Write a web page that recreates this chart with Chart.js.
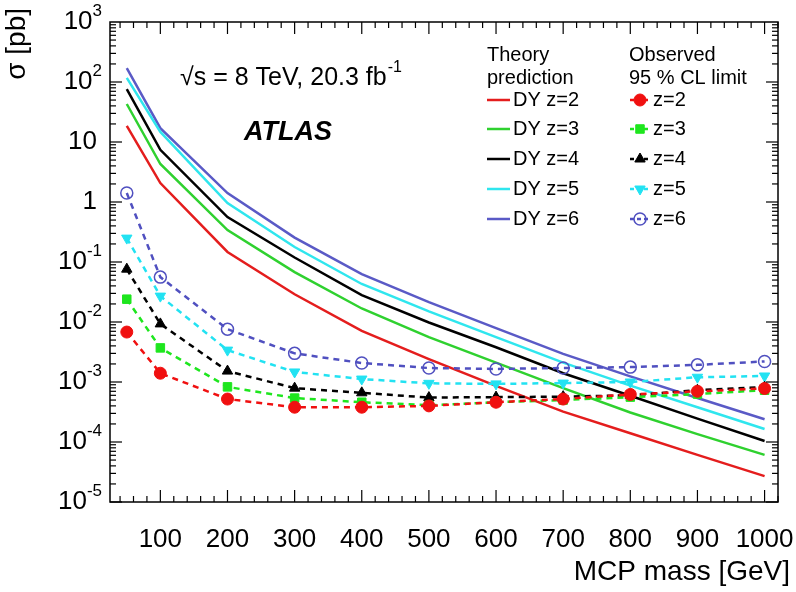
<!DOCTYPE html>
<html>
<head>
<meta charset="utf-8">
<script src="https://cdn.jsdelivr.net/npm/chart.js@4.4.0/dist/chart.umd.min.js"></script>
<style>
html, body { margin: 0; padding: 0; background: #fff; }
#wrap { width: 796px; height: 592px; }
</style>
</head>
<body>
<div id="wrap"><canvas id="myChart"></canvas></div>
<script>
// MCP masses (GeV)
var masses = [50, 100, 200, 300, 400, 500, 600, 700, 800, 900, 1000];

// Drell-Yan theory cross sections (pb)
var theoryZ2 = [18.5, 2.07, 0.147, 0.029, 0.0071, 0.0024, 8.6e-4, 3.2e-4, 1.4e-4, 6.1e-5, 2.7e-5];
var theoryZ3 = [43, 4.3, 0.34, 0.068, 0.0168, 0.0056, 2.1e-3, 7.9e-4, 3.1e-4, 1.35e-4, 6.1e-5];
var theoryZ4 = [76, 7.4, 0.56, 0.119, 0.028, 0.0098, 3.8e-3, 1.4e-3, 5.9e-4, 2.45e-4, 1.04e-4];
var theoryZ5 = [117, 14.7, 0.96, 0.178, 0.043, 0.015, 5.6e-3, 2.1e-3, 8.7e-4, 3.8e-4, 1.65e-4];
var theoryZ6 = [171, 17, 1.41, 0.255, 0.063, 0.0215, 7.9e-3, 2.95e-3, 1.24e-3, 5.4e-4, 2.4e-4];

// observed 95% CL limits (pb)
var obsZ2 = [0.0068, 1.4e-3, 5.2e-4, 3.8e-4, 3.8e-4, 4.0e-4, 4.6e-4, 5.2e-4, 6.2e-4, 7.0e-4, 7.8e-4];
var obsZ3 = [0.024, 3.7e-3, 8.3e-4, 5.4e-4, 4.6e-4, 4.1e-4, 4.6e-4, 5.0e-4, 5.6e-4, 6.3e-4, 7.3e-4];
var obsZ4 = [0.076, 9.3e-3, 1.52e-3, 7.9e-4, 6.6e-4, 5.5e-4, 5.6e-4, 5.7e-4, 6.0e-4, 7.3e-4, 8.2e-4];
var obsZ5 = [0.25, 0.027, 3.4e-3, 1.47e-3, 1.12e-3, 9.5e-4, 9.3e-4, 9.6e-4, 1.0e-3, 1.2e-3, 1.26e-3];
var obsZ6 = [1.41, 0.056, 7.6e-3, 3.0e-3, 2.07e-3, 1.71e-3, 1.65e-3, 1.71e-3, 1.77e-3, 1.93e-3, 2.2e-3];

var xTicks = [100, 200, 300, 400, 500, 600, 700, 800, 900, 1000];
var yExponents = [3, 2, 1, 0, -1, -2, -3, -4, -5];

var theoryLabels = ["DY z=2", "DY z=3", "DY z=4", "DY z=5", "DY z=6"];
var obsLabels = ["z=2", "z=3", "z=4", "z=5", "z=6"];
var lineColors = ["#e41d1d", "#2fd12f", "#000000", "#2fe6ee", "#5a5ac6"];
var markerColors = ["#f01010", "#1ee61e", "#000000", "#22e2f2", "#5050c0"];

function pts(vals) {
  return masses.map(function (m, i) { return { x: m, y: vals[i] }; });
}

var FONT = "'Liberation Sans', Arial, sans-serif";

var observed = [obsZ2, obsZ3, obsZ4, obsZ5, obsZ6];
var theory = [theoryZ2, theoryZ3, theoryZ4, theoryZ5, theoryZ6];
var markerStyles = ["circle", "rect", "triangle", "triangle", "circle"];
var markerRot = [0, 0, 0, 180, 0];

var datasets = [];
observed.forEach(function (vals, i) {
  datasets.push({
    label: obsLabels[i],
    data: pts(vals),
    borderColor: markerColors[i],
    backgroundColor: i === 4 ? "rgba(255,255,255,0)" : markerColors[i],
    pointBorderColor: markerColors[i],
    pointBackgroundColor: i === 4 ? "rgba(255,255,255,0)" : markerColors[i],
    borderWidth: 2.5,
    borderDash: [6, 5],
    pointStyle: markerStyles[i],
    rotation: markerRot[i],
    pointRadius: 6,
    pointBorderWidth: i === 4 ? 1.5 : 1,
    tension: 0,
    fill: false
  });
});
theory.forEach(function (vals, i) {
  datasets.push({
    label: theoryLabels[i],
    data: pts(vals),
    borderColor: lineColors[i],
    borderWidth: 2.5,
    pointRadius: 0,
    tension: 0,
    fill: false
  });
});

function line(ctx, x1, y1, x2, y2) {
  ctx.beginPath(); ctx.moveTo(x1, y1); ctx.lineTo(x2, y2); ctx.stroke();
}

// ROOT-like frame: inner ticks on all four sides, y labels with superscripts, texts, legend
var rootFrame = {
  id: "rootFrame",
  afterDatasetsDraw: function (chart) {
    var ctx = chart.ctx, a = chart.chartArea, xs = chart.scales.x, ys = chart.scales.y;
    ctx.save();
    ctx.strokeStyle = "#000";
    ctx.lineWidth = 1.5;
    ctx.strokeRect(a.left, a.top, a.right - a.left, a.bottom - a.top);
    ctx.lineWidth = 1.2;
    for (var v = 40; v <= 1020; v += 20) {
      var px = xs.getPixelForValue(v);
      var len = v % 100 === 0 ? 12 : 6;
      line(ctx, px, a.bottom, px, a.bottom - len);
      line(ctx, px, a.top, px, a.top + len);
    }
    for (var e = -5; e <= 2; e++) {
      for (var m = 1; m <= 9; m++) {
        var py = ys.getPixelForValue(m * Math.pow(10, e));
        var l = m === 1 ? 12 : 6;
        line(ctx, a.left, py, a.left + l, py);
        line(ctx, a.right, py, a.right - l, py);
      }
    }

    // y tick labels
    ctx.fillStyle = "#000";
    ctx.textBaseline = "middle";
    yExponents.forEach(function (ex) {
      var py = ys.getPixelForValue(Math.pow(10, ex));
      var right = a.left - 10;
      if (ex === 0 || ex === 1) {
        ctx.font = "26px " + FONT;
        ctx.textAlign = "right";
        ctx.fillText(ex === 0 ? "1" : "10", right - 3, py);
      } else {
        ctx.font = "17px " + FONT;
        var sup = String(ex);
        var sw = ctx.measureText(sup).width;
        ctx.textAlign = "right";
        ctx.fillText(sup, right + 2, py - 11);
        ctx.font = "26px " + FONT;
        ctx.fillText("10", right + 2 - sw, py);
      }
    });

    // axis titles
    ctx.font = "28px " + FONT;
    ctx.textAlign = "right";
    ctx.textBaseline = "middle";
    ctx.fillText("MCP mass [GeV]", 790, 572);
    ctx.save();
    ctx.translate(17, 8);
    ctx.rotate(-Math.PI / 2);
    ctx.textAlign = "right";
    ctx.fillText("\u03c3 [pb]", 0, 0);
    ctx.restore();

    // energy / luminosity
    ctx.textAlign = "left";
    ctx.font = "25px " + FONT;
    var t = "\u221as = 8 TeV, 20.3 fb";
    ctx.fillText(t, 180, 78);
    var tw = ctx.measureText(t).width;
    ctx.font = "16px " + FONT;
    ctx.fillText("-1", 180 + tw + 1, 68);
    ctx.font = "italic bold 27px " + FONT;
    ctx.fillText("ATLAS", 244, 133);

    // legend
    ctx.font = "20px " + FONT;
    ctx.fillText("Theory", 487, 55);
    ctx.fillText("prediction", 487, 78);
    ctx.fillText("Observed", 629, 55);
    ctx.fillText("95 % CL limit", 629, 78);
    var rows = [100, 129, 159, 189, 219];
    for (var i = 0; i < 5; i++) {
      var th = chart.data.datasets[5 + i];
      var ob = chart.data.datasets[i];
      var ry = rows[i];
      ctx.strokeStyle = th.borderColor;
      ctx.lineWidth = 2.5;
      ctx.setLineDash([]);
      line(ctx, 487, ry, 510, ry);
      ctx.fillStyle = "#000";
      ctx.fillText(theoryLabels[i], 513, ry);

      ctx.strokeStyle = ob.borderColor;
      ctx.lineWidth = 2.5;
      ctx.setLineDash([4, 3]);
      line(ctx, 630, ry, 651, ry);
      ctx.setLineDash([]);
      ctx.fillStyle = ob.pointBackgroundColor;
      ctx.strokeStyle = ob.pointBorderColor;
      ctx.lineWidth = ob.pointBorderWidth;
      Chart.helpers.drawPoint(ctx, { pointStyle: ob.pointStyle, radius: 6, rotation: ob.rotation, borderWidth: ob.pointBorderWidth }, 640, ry);
      ctx.fillStyle = "#000";
      ctx.fillText(obsLabels[i], 653, ry);
    }
    ctx.restore();
  }
};

new Chart("myChart", {
  type: "line",
  data: { datasets: datasets },
  options: {
    responsive: true,
    maintainAspectRatio: false,
    animation: false,
    layout: { padding: { left: 0, top: 22, right: 18, bottom: 0 } },
    plugins: { legend: { display: false }, tooltip: { enabled: false } },
    scales: {
      x: {
        type: "linear",
        min: 25,
        max: 1020,
        afterBuildTicks: function (scale) {
          scale.ticks = xTicks.map(function (v) { return { value: v }; });
        },
        afterFit: function (scale) {
          scale.height = 90;
          // tick labels sit inside the axis range, so no extra side padding
          scale.paddingLeft = 0;
          scale.paddingRight = 0;
        },
        grid: { display: false, drawTicks: false },
        border: { display: false },
        ticks: {
          color: "#000",
          font: { family: FONT, size: 26 },
          padding: 22,
          maxRotation: 0,
          autoSkip: false,
          callback: function (value) { return String(value); }
        }
      },
      y: {
        type: "logarithmic",
        min: 1e-5,
        max: 1e3,
        afterFit: function (scale) { scale.width = 110; },
        grid: { display: false, drawTicks: false },
        border: { display: false },
        ticks: { display: false }
      }
    }
  },
  plugins: [rootFrame]
});
</script>
</body>
</html>
